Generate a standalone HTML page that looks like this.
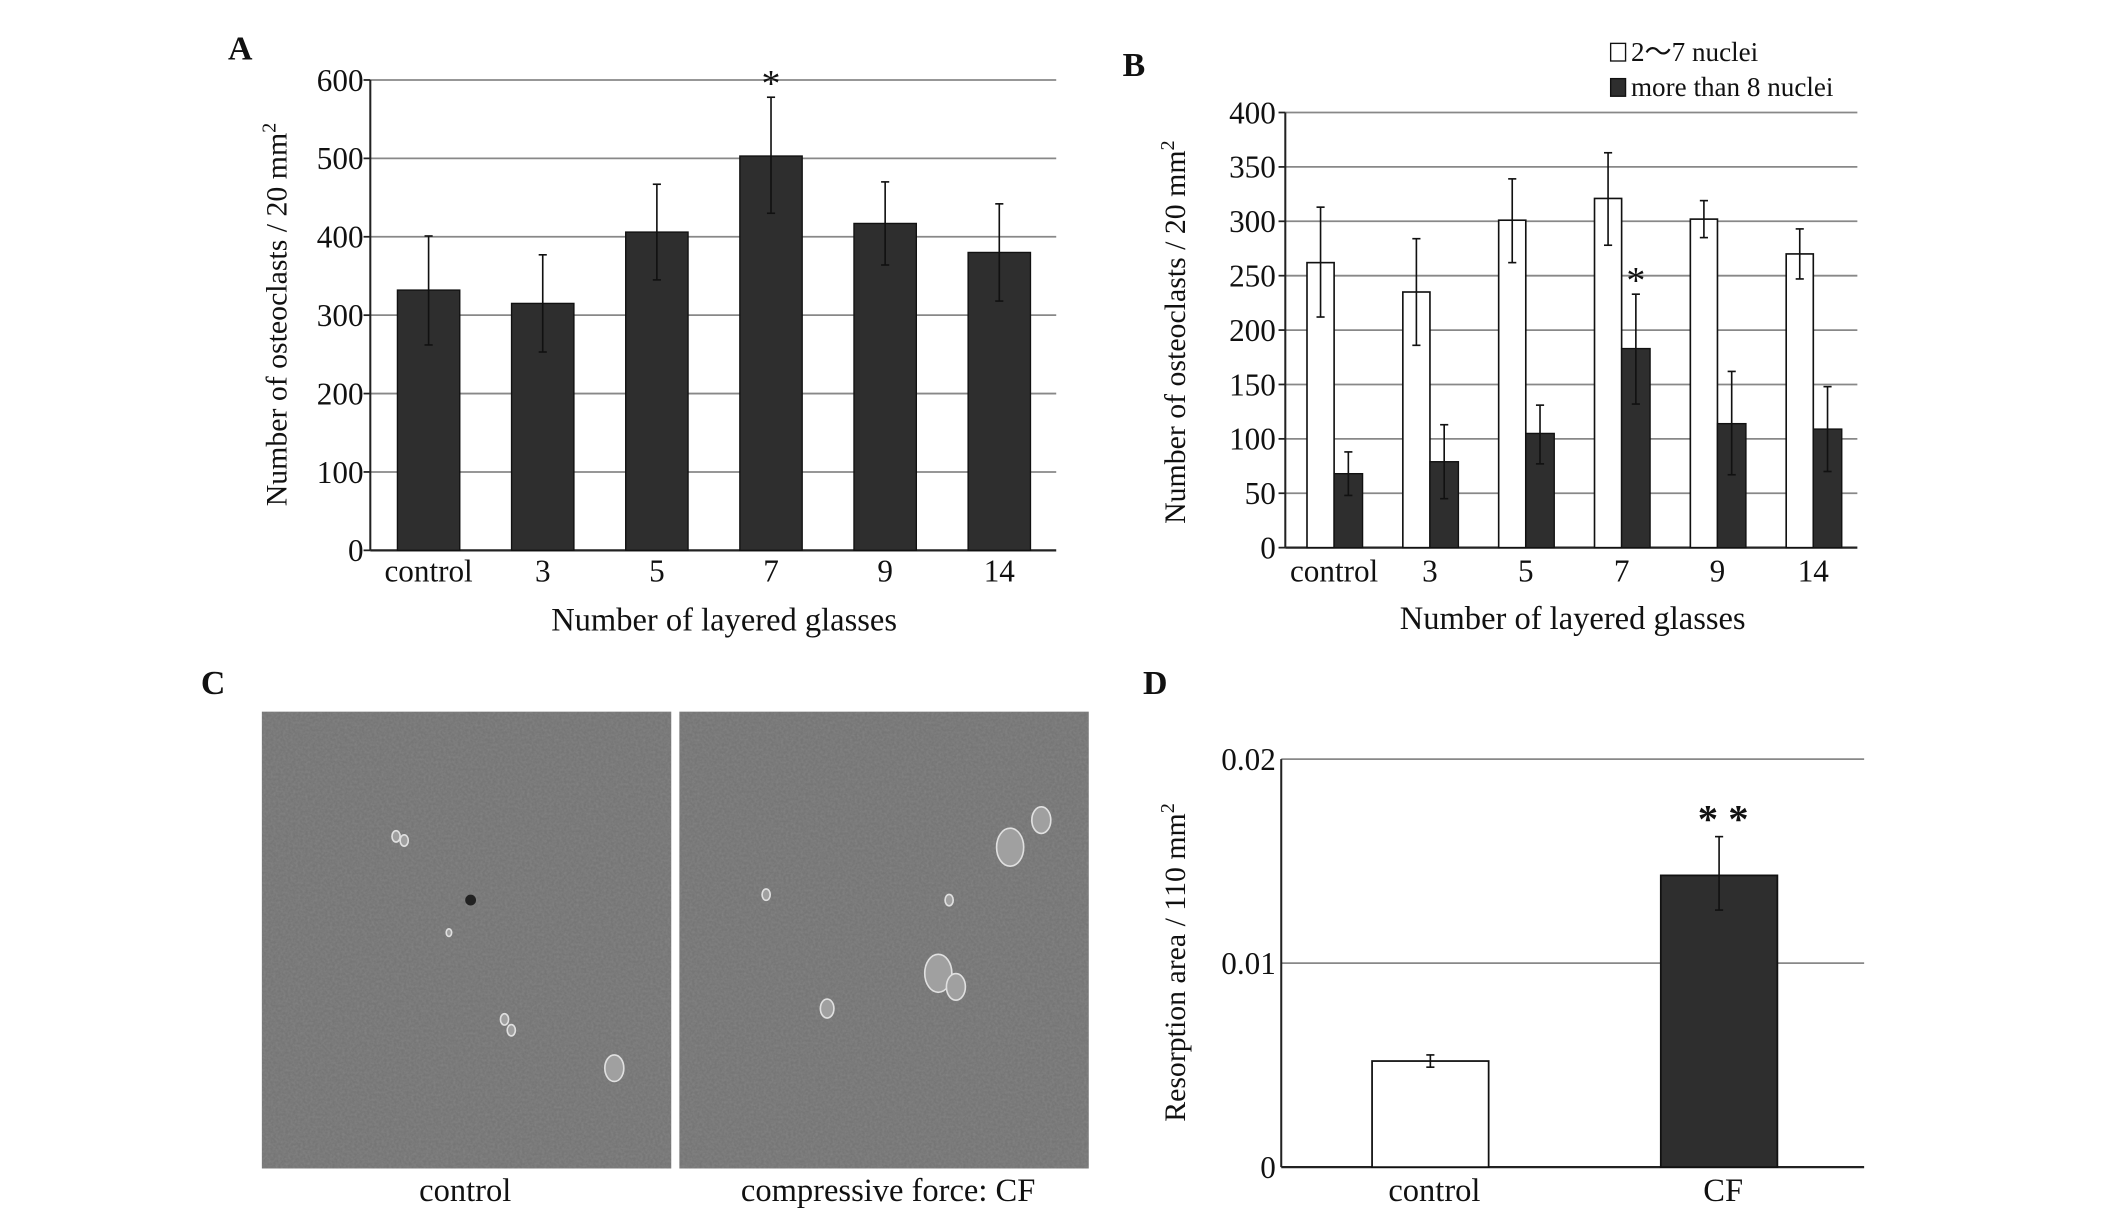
<!DOCTYPE html>
<html><head><meta charset="utf-8"><style>
html,body{margin:0;padding:0;background:#fff}
svg{display:block}
text{font-family:"Liberation Serif",serif;fill:#111}
</style></head><body>
<svg id="fig" width="2126" height="1220" viewBox="0 0 1568 900" xmlns="http://www.w3.org/2000/svg">
<defs>
<filter id="noise" x="0" y="0" width="100%" height="100%">
<feTurbulence type="fractalNoise" baseFrequency="0.55" numOctaves="2" seed="3"/>
<feColorMatrix type="matrix" values="0 0 0 0 0.47  0 0 0 0 0.47  0 0 0 0 0.47  0 0 0 0.9 -0.25"/>
</filter>
</defs>
<g id="A"></g>
<g id="B"></g>
<g id="C"></g>
<g id="D"></g>
</svg>
<script>
// Panel A data
const aCats = ["control","3","5","7","9","14"];
const aVals = [332,315,406,503,417,380];
const aLo = [262,253,345,430,364,318];
const aHi = [401,377,467,578,470,442];
const aTicks = [0,100,200,300,400,500,600];
// Panel B data
const bCats = ["control","3","5","7","9","14"];
const bWhite = [262,235,301,321,302,270];
const bWhiteLo = [212,186,262,278,285,247];
const bWhiteHi = [313,284,339,363,319,293];
const bDark = [68,79,105,183,114,109];
const bDarkLo = [48,45,77,132,67,70];
const bDarkHi = [88,113,131,233,162,148];
const bTicks = [0,50,100,150,200,250,300,350,400];
// Panel D data
const dCats = ["control","CF"];
const dVals = [0.0052,0.0143];
const dLo = [0.0049,0.0126];
const dHi = [0.0055,0.0162];
const dTicks = [0,0.01,0.02];
const dTickLabels = ["0","0.01","0.02"];

const NS="http://www.w3.org/2000/svg";
function mk(parent,tag,attrs,txt){const e=document.createElementNS(NS,tag);for(const k in attrs)e.setAttribute(k,attrs[k]);if(txt!==undefined)e.textContent=txt;parent.appendChild(e);return e;}
function errBar(g,x,y1,y2,name){
  const l=mk(g,'line',{x1:x,x2:x,y1:y1,y2:y2,stroke:'#111','stroke-width':1.2});
  
  
  mk(g,'line',{x1:x-3,x2:x+3,y1:y1,y2:y1,stroke:'#111','stroke-width':1.2});
  mk(g,'line',{x1:x-3,x2:x+3,y1:y2,y2:y2,stroke:'#111','stroke-width':1.2});
}
const TF=23;

// ---------- Panel A ----------
(function(){
const g=document.getElementById('A');
const x0=273,x1=779,yb=406,yt=59,vmax=600;
const y=v=>yb-(v/vmax)*(yb-yt);
const cx=i=>316+i*84.2;
let t=mk(g,'text',{x:168,y:44,'font-size':25,'font-weight':'bold'},'A');


aTicks.forEach(v=>{
  const gl=mk(g,'line',{x1:x0,x2:x1,y1:y(v),y2:y(v),stroke:v===0?'#222':'#888','stroke-width':v===0?1.6:1.3});
  
  
  mk(g,'line',{x1:x0-5,x2:x0,y1:y(v),y2:y(v),stroke:'#222','stroke-width':1.3});
  const tl=mk(g,'text',{x:x0-5,y:y(v)+8,'font-size':TF,'text-anchor':'end'},String(v));
  
  
});
mk(g,'line',{x1:x0,x2:x0,y1:yt,y2:yb,stroke:'#222','stroke-width':1.5});
aCats.forEach((c,i)=>{
  const r=mk(g,'rect',{x:cx(i)-23,y:y(aVals[i]),width:46,height:yb-y(aVals[i]),fill:'#2e2e2e',stroke:'#111','stroke-width':1});
  
  
  errBar(g,cx(i),y(aHi[i]),y(aLo[i]),'error-bar-a');
  const xl=mk(g,'text',{x:cx(i),y:429,'font-size':TF,'text-anchor':'middle'},c);
  
  
});
t=mk(g,'text',{x:cx(3),y:y(aHi[3])-1,'font-size':28,'text-anchor':'middle'},'*');


t=mk(g,'text',{x:534,y:465,'font-size':TF+1,'text-anchor':'middle'},'Number of layered glasses');


t=mk(g,'text',{x:0,y:0,'font-size':22,'text-anchor':'middle',transform:'translate(211,232) rotate(-90)'});
t.innerHTML='Number of osteoclasts / 20 mm<tspan dy="-8" font-size="15">2</tspan>';


})();

// ---------- Panel B ----------
(function(){
const g=document.getElementById('B');
const x0=948,x1=1370,yb=404,yt=83,vmax=400;
const y=v=>yb-(v/vmax)*(yb-yt);
const gx=i=>964+i*70.7;
let t=mk(g,'text',{x:828,y:56,'font-size':25,'font-weight':'bold'},'B');


bTicks.forEach(v=>{
  const gl=mk(g,'line',{x1:x0,x2:x1,y1:y(v),y2:y(v),stroke:v===0?'#222':'#888','stroke-width':v===0?1.6:1.3});
  
  
  mk(g,'line',{x1:x0-5,x2:x0,y1:y(v),y2:y(v),stroke:'#222','stroke-width':1.3});
  const tl=mk(g,'text',{x:x0-7,y:y(v)+8,'font-size':TF,'text-anchor':'end'},String(v));
  
  
});
mk(g,'line',{x1:x0,x2:x0,y1:yt,y2:yb,stroke:'#222','stroke-width':1.5});
bCats.forEach((c,i)=>{
  const w=mk(g,'rect',{x:gx(i),y:y(bWhite[i]),width:20,height:yb-y(bWhite[i]),fill:'#fff',stroke:'#111','stroke-width':1.2});
  
  
  const d=mk(g,'rect',{x:gx(i)+20,y:y(bDark[i]),width:21,height:yb-y(bDark[i]),fill:'#2e2e2e',stroke:'#111','stroke-width':1});
  
  
  errBar(g,gx(i)+10,y(bWhiteHi[i]),y(bWhiteLo[i]),'error-bar-b-white');
  errBar(g,gx(i)+30.5,y(bDarkHi[i]),y(bDarkLo[i]),'error-bar-b-dark');
  const xl=mk(g,'text',{x:gx(i)+20,y:429,'font-size':TF,'text-anchor':'middle'},c);
  
  
});
t=mk(g,'text',{x:gx(3)+30.5,y:y(bDarkHi[3])-1,'font-size':28,'text-anchor':'middle'},'*');


t=mk(g,'text',{x:1160,y:464,'font-size':TF+1,'text-anchor':'middle'},'Number of layered glasses');


t=mk(g,'text',{x:0,y:0,'font-size':22,'text-anchor':'middle',transform:'translate(874,245) rotate(-90)'});
t.innerHTML='Number of osteoclasts / 20 mm<tspan dy="-8" font-size="15">2</tspan>';


// legend
let s=mk(g,'rect',{x:1188,y:32,width:11,height:13,fill:'#fff',stroke:'#111','stroke-width':1});


t=mk(g,'text',{x:1203,y:45,'font-size':20},'2〜7 nuclei');


s=mk(g,'rect',{x:1188,y:58,width:11,height:13,fill:'#2e2e2e',stroke:'#111','stroke-width':1});


t=mk(g,'text',{x:1203,y:71,'font-size':20},'more than 8 nuclei');


})();

// ---------- Panel C ----------
(function(){
const g=document.getElementById('C');
let t=mk(g,'text',{x:148,y:512,'font-size':25,'font-weight':'bold'},'C');


[[193,'control-micrograph'],[501,'cf-micrograph']].forEach(([x,n])=>{
  const r=mk(g,'rect',{x:x,y:525,width:302,height:337,fill:'#767676'});
  
  
  mk(g,'rect',{x:x,y:525,width:302,height:337,fill:'#000',filter:'url(#noise)',opacity:0.35});
});
const blobs=[[292,617,3],[298,620,3],[372,752,3],[377,760,3],[453,788,7],[331,688,2],[745,625,10],[768,605,7],[692,718,10],[705,728,7],[610,744,5],[700,664,3],[565,660,3]];
blobs.forEach(b=>{mk(g,'ellipse',{cx:b[0],cy:b[1],rx:b[2],ry:b[2]*1.4,fill:'#a0a0a0',stroke:'#e0e0e0','stroke-width':1.2});});
mk(g,'circle',{cx:347,cy:664,r:4,fill:'#222'});
t=mk(g,'text',{x:343,y:886,'font-size':24,'text-anchor':'middle'},'control');


t=mk(g,'text',{x:655,y:886,'font-size':24,'text-anchor':'middle'},'compressive force: CF');


})();

// ---------- Panel D ----------
(function(){
const g=document.getElementById('D');
const x0=945,x1=1375,yb=861,yt=560,vmax=0.02;
const y=v=>yb-(v/vmax)*(yb-yt);
const cx=i=>1055+i*213;
let t=mk(g,'text',{x:843,y:512,'font-size':25,'font-weight':'bold'},'D');


dTicks.forEach((v,k)=>{
  const gl=mk(g,'line',{x1:x0,x2:x1,y1:y(v),y2:y(v),stroke:v===0?'#222':'#888','stroke-width':v===0?1.6:1.3});
  
  
  const tl=mk(g,'text',{x:x0-4,y:y(v)+8,'font-size':TF,'text-anchor':'end'},dTickLabels[k]);
  
  
});
mk(g,'line',{x1:x0,x2:x0,y1:yt,y2:yb,stroke:'#222','stroke-width':1.5});
dCats.forEach((c,i)=>{
  const r=mk(g,'rect',{x:cx(i)-43,y:y(dVals[i]),width:86,height:yb-y(dVals[i]),fill:i===0?'#fff':'#2e2e2e',stroke:'#111','stroke-width':1.3});
  
  
  errBar(g,cx(i),y(dHi[i]),y(dLo[i]),'error-bar-d');
  const xl=mk(g,'text',{x:cx(i)+3,y:886,'font-size':24,'text-anchor':'middle'},c);
  
  
});
t=mk(g,'text',{x:cx(1)+3,y:y(dHi[1])-3,'font-size':30,'font-weight':'bold','text-anchor':'middle'},'* *');


t=mk(g,'text',{x:0,y:0,'font-size':22,'text-anchor':'middle',transform:'translate(874,710) rotate(-90)'});
t.innerHTML='Resorption area / 110 mm<tspan dy="-8" font-size="15">2</tspan>';


})();
</script>
</body></html>
